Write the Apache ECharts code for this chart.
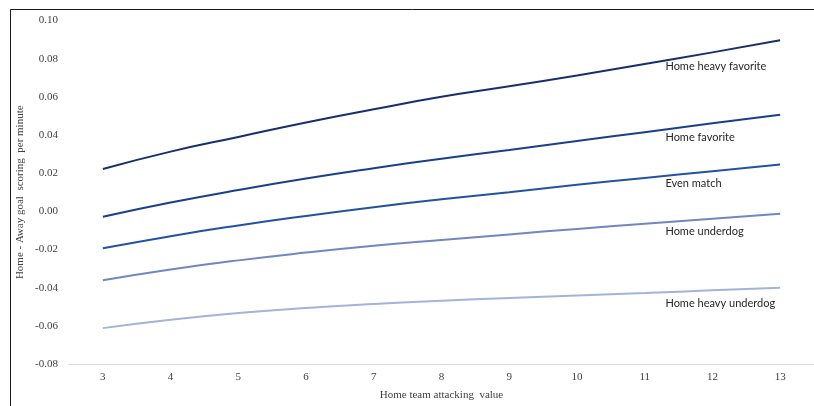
<!DOCTYPE html>
<html>
<head>
<meta charset="utf-8">
<script src="https://cdn.jsdelivr.net/npm/echarts@6/dist/echarts.min.js"></script>
<style>html,body{margin:0;padding:0;background:#fff;}#c{width:814px;height:406px;}</style>
</head>
<body>
<div id="c"></div>
<script>
const categories = ['3','4','5','6','7','8','9','10','11','12','13'];
const homeHeavyFavorite = [0.0222, 0.0313, 0.0390, 0.0466, 0.0535, 0.0600, 0.0655, 0.0712, 0.0772, 0.0833, 0.0897];
const homeFavorite      = [-0.0028, 0.0046, 0.0112, 0.0172, 0.0226, 0.0276, 0.0322, 0.0369, 0.0415, 0.0461, 0.0506];
const evenMatch         = [-0.0194, -0.0130, -0.0074, -0.0024, 0.0022, 0.0063, 0.0100, 0.0139, 0.0175, 0.0210, 0.0245];
const homeUnderdog      = [-0.0361, -0.0305, -0.0257, -0.0216, -0.0180, -0.0150, -0.0121, -0.0092, -0.0065, -0.0039, -0.0013];
const homeHeavyUnderdog = [-0.0612, -0.0568, -0.0533, -0.0506, -0.0485, -0.0468, -0.0454, -0.0441, -0.0428, -0.0414, -0.0401];
const seriesNames = ['Home heavy favorite','Home favorite','Even match','Home underdog','Home heavy underdog'];
const seriesValues = [homeHeavyFavorite, homeFavorite, evenMatch, homeUnderdog, homeHeavyUnderdog];
const colors = ['#172f6b', '#1b3f8d', '#2452a3', '#7187c0', '#a5b3d8'];
const labelIndex = 9;
const labelOffsets = [[-47, 14], [-47, 14], [-47, 12], [-47, 13], [-47, 13]];

const chart = echarts.init(document.getElementById('c'), null, {renderer: 'canvas'});
const serif = '"Liberation Serif", "Times New Roman", serif';
const series = seriesNames.map((name, si) => ({
  name: name,
  type: 'line',
  smooth: true,
  symbol: 'circle',
  symbolSize: 0,
  showSymbol: true,
  lineStyle: {color: colors[si], width: 2},
  itemStyle: {color: colors[si]},
  label: {show: false},
  data: seriesValues[si].map((v, i) => i === labelIndex ? {
    value: v,
    label: {
      show: true,
      formatter: name,
      position: 'inside',
      align: 'left',
      verticalAlign: 'middle',
      offset: labelOffsets[si],
      fontFamily: 'Lato, "Open Sans", sans-serif',
      fontSize: 11,
      color: '#262626'
    }
  } : v),
  z: 2
}));

chart.setOption({
  animation: false,
  backgroundColor: '#ffffff',
  grid: {left: 69, right: -3, top: 20.5, bottom: 41, containLabel: false},
  xAxis: {
    type: 'category',
    data: categories,
    boundaryGap: true,
    name: 'Home team attacking  value',
    nameLocation: 'middle',
    nameGap: 26,
    nameMoveOverlap: false,
    nameTextStyle: {fontFamily: serif, fontSize: 11, color: '#404040'},
    axisLine: {show: true, onZero: false, lineStyle: {color: '#d9d9d9', width: 1}},
    axisTick: {show: false},
    axisLabel: {fontFamily: serif, fontSize: 11, color: '#404040', margin: 8},
    splitLine: {show: false}
  },
  yAxis: {
    type: 'value',
    min: -0.08,
    max: 0.10,
    interval: 0.02,
    name: 'Home - Away goal  scoring  per minute',
    nameLocation: 'middle',
    nameGap: 43,
    nameMoveOverlap: false,
    nameRotate: 90,
    nameTextStyle: {fontFamily: serif, fontSize: 11, color: '#404040'},
    axisLine: {show: false},
    axisTick: {show: false},
    splitLine: {show: false},
    axisLabel: {
      fontFamily: serif, fontSize: 11, color: '#404040', margin: 11,
      formatter: v => (Math.abs(v) < 1e-9 ? 0 : v).toFixed(2)
    }
  },
  graphic: [{
    type: 'rect',
    shape: {x: 10.5, y: 9.5, width: 900, height: 500},
    style: {fill: 'none', stroke: '#1a1a1a', lineWidth: 1},
    silent: true
  }],
  series: series
});
</script>
</body>
</html>
